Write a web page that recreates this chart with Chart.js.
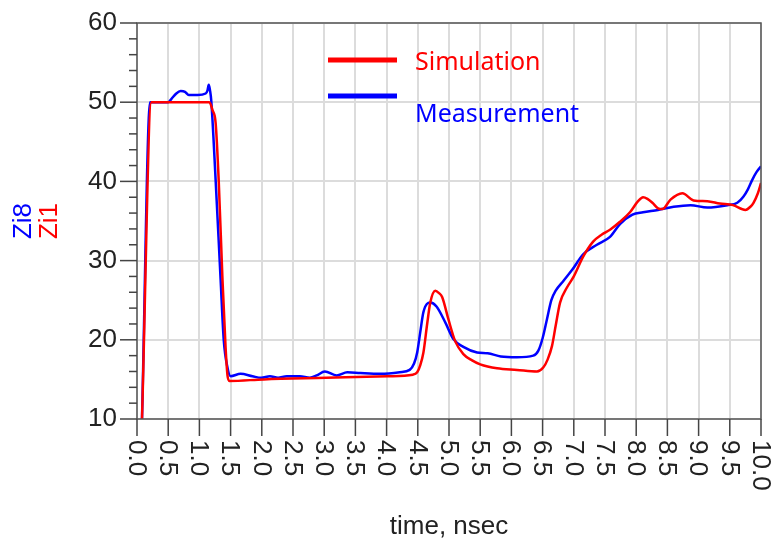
<!DOCTYPE html>
<html>
<head>
<meta charset="utf-8">
<script src="https://cdn.jsdelivr.net/npm/chart.js@4"></script>
<style>
    html, body { margin: 0; padding: 0; background: #fff; }
    #box { width: 776px; height: 547px; }
</style>
</head>
<body>
<div id="box"><canvas id="grafico"></canvas></div>
<script>
// tempo (ns) e impedancia (ohm)
const simTempo = [0.08, 0.23, 1.16, 1.21, 1.26, 1.31, 1.37, 1.42, 1.45, 1.48, 2.03, 3.03, 4.02, 4.42, 4.49, 4.54, 4.59, 4.65, 4.70, 4.78, 4.84, 4.89, 4.99, 5.10, 5.23, 5.37, 5.50, 5.77, 6.09, 6.41, 6.51, 6.58, 6.65, 6.71, 6.78, 6.89, 7.00, 7.15, 7.31, 7.45, 7.58, 7.74, 7.90, 8.03, 8.11, 8.18, 8.26, 8.35, 8.42, 8.55, 8.74, 8.92, 9.14, 9.34, 9.55, 9.75, 9.83, 9.88, 9.95, 10.0]
const simValores = [10, 50, 50, 49, 47.4, 40, 27.6, 19, 15.5, 14.8, 15.0, 15.2, 15.4, 15.6, 15.9, 16.8, 18.4, 22, 24.7, 26.2, 25.9, 25.4, 22.6, 19.8, 18.2, 17.4, 16.9, 16.4, 16.2, 16.0, 16.5, 17.5, 19.2, 21.8, 24.7, 26.6, 28.0, 30.5, 32.4, 33.3, 33.9, 34.9, 36.1, 37.5, 38.0, 37.8, 37.3, 36.6, 36.5, 37.7, 38.5, 37.6, 37.5, 37.2, 37.0, 36.4, 36.8, 37.3, 38.5, 39.8]

const medTempo = [0.08, 0.21, 0.50, 0.55, 0.63, 0.70, 0.77, 0.83, 0.97, 1.10, 1.13, 1.15, 1.17, 1.19, 1.26, 1.34, 1.39, 1.45, 1.50, 1.66, 1.85, 1.99, 2.13, 2.26, 2.40, 2.61, 2.77, 2.88, 3.01, 3.20, 3.37, 3.58, 3.90, 4.21, 4.37, 4.44, 4.49, 4.54, 4.59, 4.70, 4.80, 4.94, 5.07, 5.23, 5.45, 5.62, 5.83, 6.09, 6.35, 6.43, 6.50, 6.57, 6.64, 6.71, 6.83, 6.98, 7.15, 7.37, 7.58, 7.74, 7.94, 8.11, 8.35, 8.60, 8.87, 9.14, 9.46, 9.62, 9.72, 9.79, 9.86, 9.93, 10.0]
const medValores = [10, 50, 50, 50.4, 51.1, 51.4, 51.3, 50.9, 50.9, 51.1, 51.5, 52.2, 51.5, 50.2, 40.2, 27.6, 20, 16.5, 15.4, 15.7, 15.4, 15.2, 15.4, 15.2, 15.4, 15.4, 15.2, 15.5, 16.0, 15.5, 15.9, 15.8, 15.7, 15.9, 16.2, 17.0, 18.4, 21, 23.5, 24.7, 24.2, 22.2, 20.1, 19.1, 18.4, 18.3, 17.9, 17.8, 18.0, 18.6, 20.2, 22.6, 25, 26.2, 27.4, 28.9, 30.8, 32.0, 33.0, 34.6, 35.8, 36.1, 36.4, 36.8, 37.0, 36.7, 37.0, 37.3, 38.1, 39.0, 40.2, 41.2, 41.9]

const rotulosSeries = ['Simulation', 'Measurement']
const rotulosEixoY = ['Zi8', 'Zi1']
const tituloEixoX = 'time, nsec'
const ticksX = [0, 0.5, 1, 1.5, 2, 2.5, 3, 3.5, 4, 4.5, 5, 5.5, 6, 6.5, 7, 7.5, 8, 8.5, 9, 9.5, 10]
const ticksY = [10, 20, 30, 40, 50, 60]
const ticksYMenores = [12, 14, 16, 18, 22, 24, 26, 28, 32, 34, 36, 38, 42, 44, 46, 48, 52, 54, 56, 58]

const VERMELHO = '#ff0000'
const AZUL = '#0000ff'
const TEXTO = '#222'
const FONTE = '"Liberation Sans", Arial, sans-serif'

function pontos(tempos, valores) {
    return tempos.map((t, i) => ({ x: t, y: valores[i] }))
}

// ticks, rotulos verticais, titulos e legenda desenhados a mao
const decoracao = {
    id: 'decoracao',
    afterDraw(chart) {
        const ctx = chart.ctx
        const area = chart.chartArea
        const sx = chart.scales.x
        const sy = chart.scales.y
        ctx.save()

        // moldura
        ctx.strokeStyle = '#555'
        ctx.lineWidth = 1.5
        ctx.strokeRect(area.left, area.top, area.right - area.left, area.bottom - area.top)

        // ticks do eixo y (maiores a cada 10, menores a cada 2)
        ctx.strokeStyle = '#444'
        ctx.lineWidth = 1.5
        ticksY.concat(ticksYMenores).forEach(v => {
            const y = sy.getPixelForValue(v)
            const len = ticksY.includes(v) ? 17 : 8
            ctx.beginPath()
            ctx.moveTo(area.left - len, y)
            ctx.lineTo(area.left, y)
            ctx.stroke()
        })

        // ticks e rotulos do eixo x, girados no sentido horario
        ctx.fillStyle = TEXTO
        ctx.font = '26px ' + FONTE
        ctx.textAlign = 'left'
        ctx.textBaseline = 'middle'
        ticksX.forEach(t => {
            const x = sx.getPixelForValue(t)
            ctx.beginPath()
            ctx.moveTo(x, area.bottom)
            ctx.lineTo(x, area.bottom + 17)
            ctx.stroke()
            ctx.save()
            ctx.translate(x, area.bottom + 21)
            ctx.rotate(Math.PI / 2)
            ctx.fillText(t.toFixed(1), 0, 1)
            ctx.restore()
        })

        // titulo x
        ctx.textAlign = 'center'
        ctx.fillText(tituloEixoX, (area.left + area.right) / 2, 527)

        // titulos y em duas cores
        const meioY = (area.top + area.bottom) / 2
        const coresY = [AZUL, VERMELHO]
        rotulosEixoY.forEach((txt, i) => {
            ctx.save()
            ctx.translate(24 + i * 26, meioY)
            ctx.rotate(-Math.PI / 2)
            ctx.fillStyle = coresY[i]
            ctx.fillText(txt, 0, 0)
            ctx.restore()
        })

        // legenda dentro da area do grafico
        ctx.font = '25px "Noto Sans", "Open Sans", sans-serif'
        ctx.textAlign = 'left'
        const itens = [
            { cor: VERMELHO, linhaY: 60, textoY: 63 },
            { cor: AZUL, linhaY: 96, textoY: 115 }
        ]
        itens.forEach((item, i) => {
            ctx.strokeStyle = item.cor
            ctx.lineWidth = 5
            ctx.beginPath()
            ctx.moveTo(328, item.linhaY)
            ctx.lineTo(397, item.linhaY)
            ctx.stroke()
            ctx.fillStyle = item.cor
            ctx.fillText(rotulosSeries[i], 415, item.textoY)
        })

        ctx.restore()
    }
}

const ctx = document.getElementById('grafico').getContext('2d')

new Chart(ctx, {
    type: 'line',
    data: {
        datasets: [
            {
                label: rotulosSeries[0],
                data: pontos(simTempo, simValores),
                borderColor: VERMELHO,
                borderWidth: 2.5,
                pointRadius: 0,
                cubicInterpolationMode: 'monotone',
                fill: false
            },
            {
                label: rotulosSeries[1],
                data: pontos(medTempo, medValores),
                borderColor: AZUL,
                borderWidth: 2.5,
                pointRadius: 0,
                cubicInterpolationMode: 'monotone',
                fill: false
            }
        ]
    },
    options: {
        responsive: true,
        maintainAspectRatio: false,
        animation: false,
        layout: { padding: { top: 23, right: 15, left: 0, bottom: 0 } },
        plugins: {
            legend: { display: false },
            tooltip: { enabled: false }
        },
        scales: {
            x: {
                type: 'linear',
                min: 0,
                max: 10,
                afterFit: scale => { scale.height = 128 },
                afterBuildTicks: scale => { scale.ticks = ticksX.map(v => ({ value: v })) },
                ticks: { display: false },
                grid: { color: '#dcdcdc', lineWidth: 2, drawTicks: false },
                border: { display: false }
            },
            y: {
                min: 10,
                max: 60,
                afterFit: scale => {
                    scale.width = 137
                    scale.paddingTop = 0
                    scale.paddingBottom = 0
                },
                afterBuildTicks: scale => { scale.ticks = ticksY.map(v => ({ value: v })) },
                ticks: {
                    autoSkip: false,
                    padding: 20,
                    color: TEXTO,
                    font: { size: 26, family: FONTE }
                },
                grid: { color: '#dcdcdc', lineWidth: 2, drawTicks: false },
                border: { display: false }
            }
        }
    },
    plugins: [decoracao]
})
</script>
</body>
</html>
